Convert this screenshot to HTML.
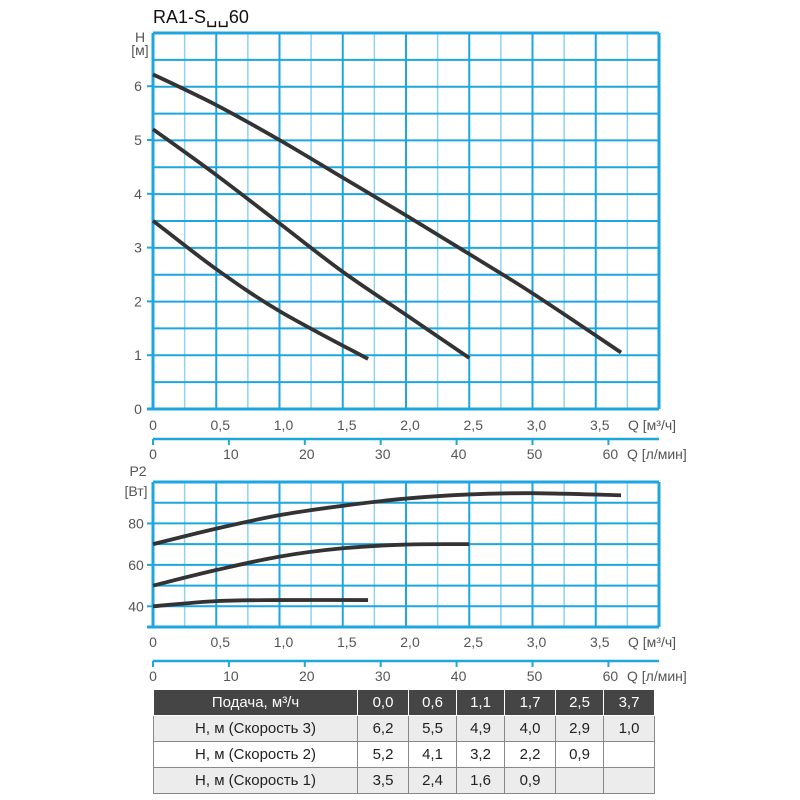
<!DOCTYPE html>
<html><head><meta charset="utf-8"><style>
body{margin:0;background:#fff;width:800px;height:800px;overflow:hidden;font-family:"Liberation Sans",sans-serif}
svg{position:absolute;left:0;top:0}
table{position:absolute;left:153px;top:689px;width:502px;border-collapse:collapse;font-size:15px;color:#222}
td{border:1px solid #888;text-align:center;height:25px;padding:0}
tr.h td{background:#454545;color:#fff;border-color:#fff}
tr.g td{background:#ececec}
</style></head><body>
<svg id="s" width="800" height="800" xmlns="http://www.w3.org/2000/svg"></svg>
<table>
<tr class="h"><td style="width:203px">Подача, м³/ч</td><td style="width:50px">0,0</td><td style="width:47px">0,6</td><td style="width:47px">1,1</td><td style="width:50px">1,7</td><td style="width:47px">2,5</td><td>3,7</td></tr>
<tr class="g"><td>H, м (Скорость 3)</td><td>6,2</td><td>5,5</td><td>4,9</td><td>4,0</td><td>2,9</td><td>1,0</td></tr>
<tr><td>H, м (Скорость 2)</td><td>5,2</td><td>4,1</td><td>3,2</td><td>2,2</td><td>0,9</td><td></td></tr>
<tr class="g"><td>H, м (Скорость 1)</td><td>3,5</td><td>2,4</td><td>1,6</td><td>0,9</td><td></td><td></td></tr>
</table>
<script>
var s=document.getElementById('s'),o='';
var X0=153,K=126.5,R=659;
function ln(a,b,c,d,col,w){o+='<line x1="'+a+'" y1="'+b+'" x2="'+c+'" y2="'+d+'" stroke="'+col+'" stroke-width="'+w+'"/>';}
function tx(x,y,t,a,sz,c,fw){o+='<text x="'+x+'" y="'+y+'" font-size="'+(sz||14)+'" fill="'+(c||'#555')+'" text-anchor="'+(a||'middle')+'"'+(fw?' font-weight="'+fw+'"':'')+'>'+t+'</text>';}
var M='#1ea6e0',m='#8fd2f0';
function grid(T,B,ny){
 for(var i=0;i<=16;i++){var x=X0+i*K/4;ln(x,T,x,B,i%2?m:M,i%2?1.5:2);}
 for(var j=0;j<=ny;j++){var y=T+(B-T)*j/ny;ln(X0,y,R,y,M,2);}
 ln(X0,T,R,T,M,3);ln(R,T,R,B,M,3);ln(X0-6,B,R,B,M,3);ln(X0,T,X0,B,M,3);
}
var T1=33,B1=409,py=53.8;
grid(T1,B1,14);
for(var v=0;v<=6;v++){var y=B1-v*py;ln(X0-6,y,X0,y,M,2);tx(138,y+5,v,'middle',14);}
tx(140,42,'H');tx(140,55,'[м]');
function qax(y){var l=['0','0,5','1,0','1,5','2,0','2,5','3,0','3,5'];for(var i=0;i<8;i++)tx(X0+i*K/2+(i?4:0),y,l[i]);tx(628,y,'Q [м³/ч]','start');}
function lax(y){ln(X0,y,R,y,M,2.5);for(var i=0;i<=6;i++){var x=X0+i*10*0.06*K;ln(x,y,x,y+6,M,2);tx(x+(i?2:0),y+20,i*10);}tx(627,y+20,'Q [л/мин]','start');}
qax(430);lax(439);
tx(153,23,'RA1-S␣␣60','start',18,'#111');
var T2=482,B2=627;
grid(T2,B2,7);
function yP(w){return B2-(w-30)*(B2-T2)/70;}
for(var w=40;w<=80;w+=20){var y=yP(w);ln(X0-6,y,X0,y,M,2);tx(136,y+5,w);}
tx(138,476,'P2');
tx(136,496,'[Вт]');
qax(647);lax(661);
function curve(pts,fy){
 var P=pts.map(function(p){return [X0+p[0]*K,fy(p[1])];});
 var d='M'+P[0][0]+','+P[0][1];
 for(var i=0;i<P.length-1;i++){var p0=P[i-1]||P[i],p1=P[i],p2=P[i+1],p3=P[i+2]||p2;
  d+=' C'+(p1[0]+(p2[0]-p0[0])/6)+','+(p1[1]+(p2[1]-p0[1])/6)+' '+(p2[0]-(p3[0]-p1[0])/6)+','+(p2[1]-(p3[1]-p1[1])/6)+' '+p2[0]+','+p2[1];}
 o+='<path d="'+d+'" fill="none" stroke="#333" stroke-width="3.8" stroke-linecap="butt"/>';
}
function fH(v){return B1-v*py;}
curve([[0,6.22],[0.5,5.65],[1.0,5.0],[1.5,4.3],[2.0,3.6],[2.5,2.88],[3.0,2.15],[3.7,1.05]],fH);
curve([[0,5.2],[0.5,4.35],[1.0,3.45],[1.5,2.55],[2.0,1.75],[2.5,0.95]],fH);
curve([[0,3.5],[0.5,2.6],[1.0,1.82],[1.7,0.93]],fH);
curve([[0,70],[0.5,77.5],[1.0,84],[1.5,88.5],[2.0,92],[2.5,94],[3.0,94.6],[3.7,93.6]],yP);
curve([[0,50],[0.5,57.5],[1.0,64],[1.5,68],[2.0,69.8],[2.5,70]],yP);
curve([[0,40],[0.5,42.5],[1.0,43],[1.7,43]],yP);
s.innerHTML=o;
</script>
</body></html>
